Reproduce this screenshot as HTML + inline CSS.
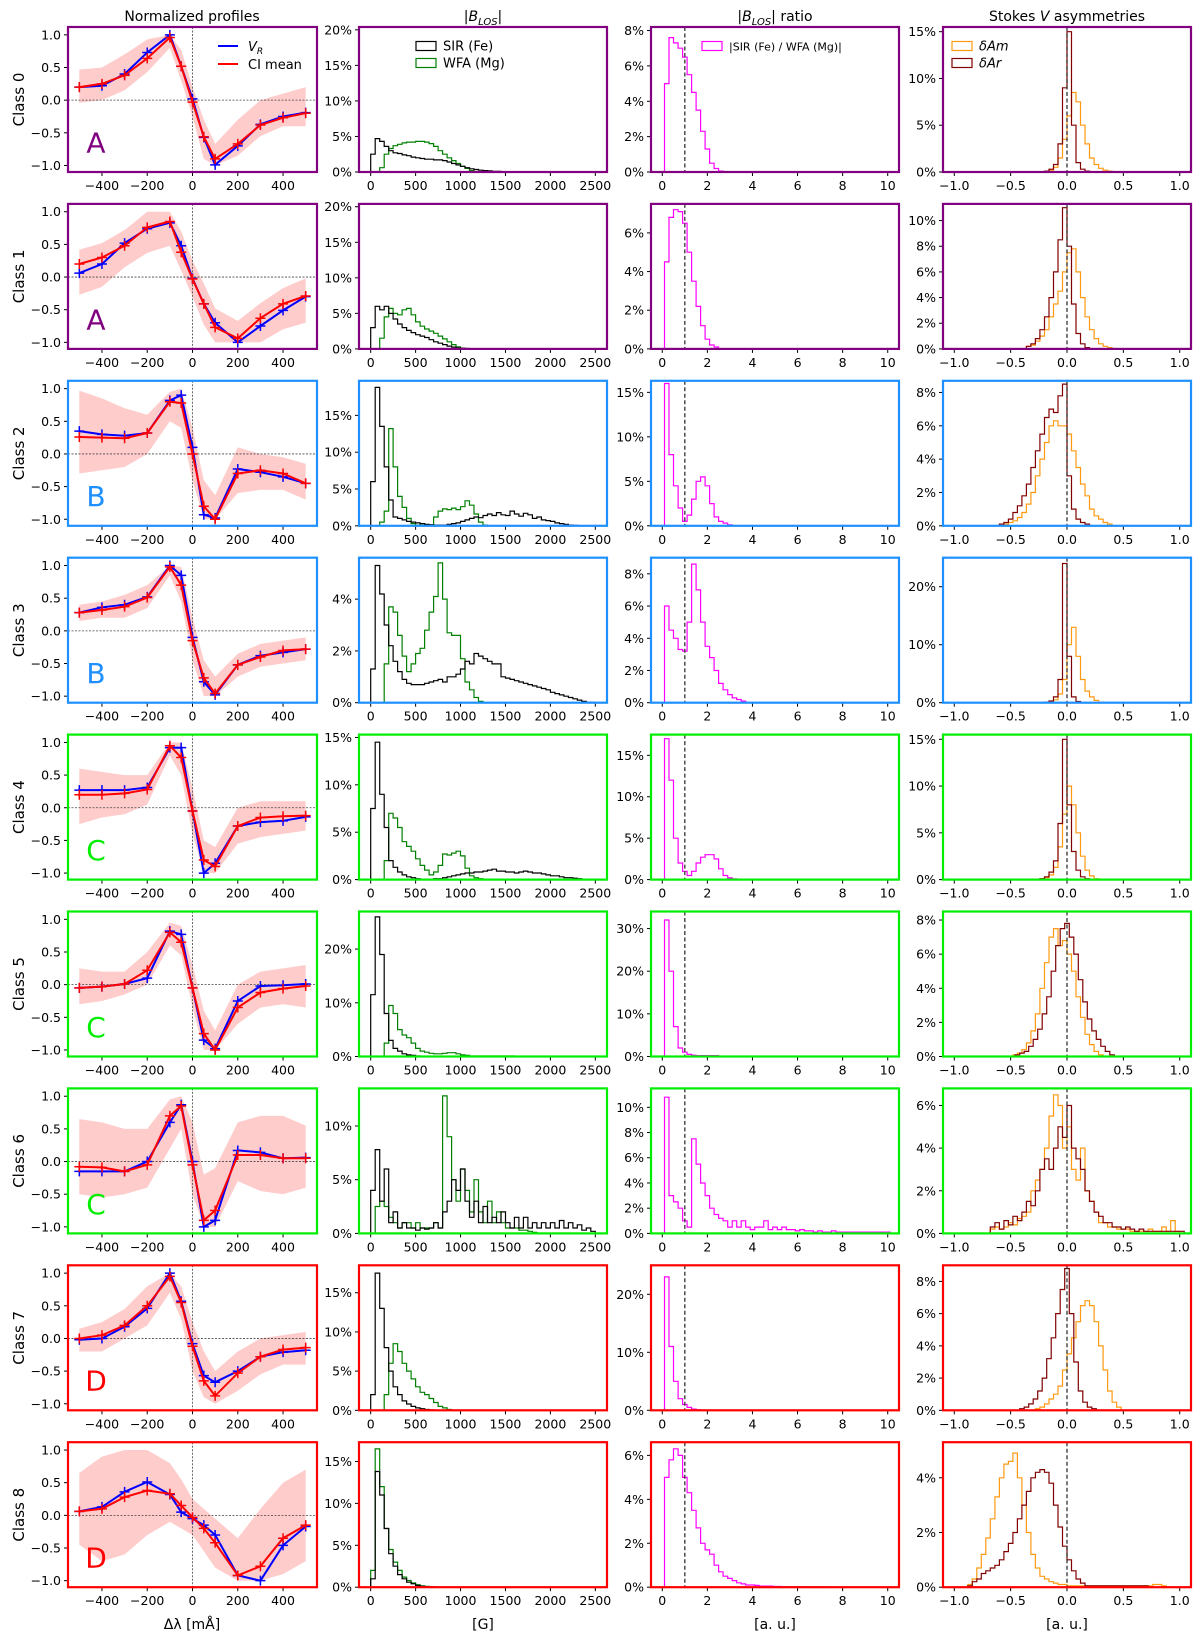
<!DOCTYPE html>
<html><head><meta charset="utf-8">
<style>
body{margin:0;background:#fff;}
svg{display:block;font-family:"DejaVu Sans","Liberation Sans",sans-serif;}
</style></head>
<body>
<svg id="fig" width="1200" height="1640" viewBox="0 0 1200 1640" xmlns="http://www.w3.org/2000/svg"></svg>
<script>
// ---------- DATA ----------
const classes = [0,1,2,3,4,5,6,7,8];
const classGroup = ["A","A","B","B","C","C","C","D","D"];
const dLambda = [-500,-400,-300,-200,-100,-50,0,50,100,200,300,400,500];
const vrProfiles = [
 [.2,.22,.4,.73,1.0,.52,.02,-.57,-.99,-.7,-.37,-.25,-.19],
 [.06,.2,.52,.74,.83,.48,-.02,-.41,-.7,-1.0,-.75,-.51,-.3],
 [.35,.3,.28,.32,.82,.9,.1,-.93,-.98,-.23,-.28,-.35,-.45],
 [.28,.36,.4,.52,1.0,.85,-.1,-.78,-.98,-.52,-.38,-.33,-.28],
 [.27,.27,.27,.31,.92,.92,-.05,-1.0,-.85,-.28,-.22,-.2,-.14],
 [-.05,-.03,.01,.1,.82,.77,-.05,-.85,-.98,-.25,-.02,-.01,.01],
 [-.15,-.15,-.15,0,.6,.87,0,-1.0,-.9,.17,.14,.05,.06],
 [-.02,0,.18,.46,1.0,.57,-.08,-.57,-.67,-.5,-.28,-.21,-.18],
 [.06,.13,.36,.51,.32,.05,-.05,-.15,-.3,-.92,-1.0,-.46,-.17]];
const ciMean = [
 [.2,.25,.38,.64,.96,.52,-.03,-.56,-.9,-.67,-.38,-.27,-.2],
 [.2,.3,.48,.76,.85,.38,-.03,-.41,-.77,-.94,-.63,-.41,-.29],
 [.26,.25,.24,.32,.8,.78,0,-.8,-1.0,-.3,-.25,-.3,-.45],
 [.28,.32,.37,.51,.98,.7,-.15,-.72,-.96,-.52,-.4,-.3,-.28],
 [.2,.2,.22,.28,.95,.77,-.05,-.8,-.9,-.28,-.15,-.13,-.12],
 [-.05,-.03,.01,.22,.8,.65,-.05,-.75,-1.0,-.35,-.12,-.06,-.02],
 [-.08,-.09,-.15,-.05,.7,.85,-.05,-.9,-.75,.1,.1,.05,.05],
 [0,.05,.2,.5,.95,.55,-.12,-.65,-.88,-.53,-.28,-.17,-.14],
 [.06,.1,.28,.38,.33,.15,-.03,-.2,-.42,-.92,-.78,-.35,-.15]];
const bandUpper = [
 [.47,.5,.7,.93,1.0,.77,.2,-.3,-.67,-.3,0,.1,.2],
 [.42,.52,.72,1.0,1.0,.7,.25,-.1,-.48,-.67,-.4,-.17,-.02],
 [.97,.85,.7,.6,.95,1.0,.4,-.4,-.63,.1,0,-.05,-.15],
 [.4,.45,.55,.7,1.0,.98,.2,-.45,-.7,-.35,-.2,-.15,-.1],
 [.6,.55,.5,.5,1.0,1.0,.3,-.5,-.6,0,.1,.1,.1],
 [.25,.2,.2,.5,.95,.9,.3,-.4,-.7,0,.2,.25,.3],
 [.65,.6,.5,.5,.95,1.0,.6,-.2,-.1,.6,.7,.7,.55],
 [.15,.25,.45,.8,1.0,.8,.25,-.2,-.5,-.2,0,.05,.1],
 [.65,.9,1.0,1.0,.8,.55,.25,.1,-.05,-.35,.1,.5,.7]];
const bandLower = [
 [-.04,0,.15,.43,.8,.3,-.25,-.9,-1.0,-.85,-.55,-.4,-.4],
 [-.27,-.15,.15,.37,.48,.1,-.3,-.73,-1.0,-1.0,-1.0,-.8,-.7],
 [-.3,-.25,-.2,0,.5,.4,-.4,-1.0,-1.0,-.6,-.55,-.55,-.7],
 [.15,.2,.2,.35,.85,.45,-.45,-1.0,-1.0,-.7,-.55,-.5,-.45],
 [-.25,-.15,-.1,.05,.8,.5,-.4,-1.0,-1.0,-.55,-.45,-.4,-.35],
 [-.3,-.25,-.15,0,.6,.45,-.35,-1.0,-1.0,-.6,-.35,-.3,-.35],
 [-.5,-.55,-.5,-.4,.2,.5,-.5,-1.0,-1.0,-.3,-.45,-.5,-.4],
 [-.2,-.2,0,.2,.7,.3,-.5,-.9,-1.0,-.8,-.55,-.4,-.4],
 [-.45,-.7,-.6,-.3,-.1,-.2,-.3,-.55,-.8,-1.0,-1.0,-.9,-.7]];

// |B_LOS| histograms, 50 G bins from 0 G, percent
const sirHist = [
 [2.5,4.7,4.3,3.6,3.0,2.7,2.6,2.4,2.3,2.1,2.0,1.9,1.8,1.8,1.7,1.7,1.6,1.4,1.2,1.0,0.8,0.6,0.45,0.35,0.25,0.2,0.15,0.1,0.08,0.05,0.04,0.03,0.02,0.01],
 [3,6,5.5,6,5,4.2,3.5,3.0,2.6,2.3,2.0,1.8,1.6,1.3,1.0,0.8,0.6,0.4,0.25,0.15,0.1,0.05,0.03],
 [6,18.8,13.5,8,3.5,1.2,1.0,0.8,0.6,0.5,0.4,0.3,0.2,0.15,0.1,0.1,0.1,0.2,0.3,0.4,0.6,0.8,1.0,1.2,1.1,1.4,1.6,1.4,1.8,1.5,1.4,2.0,1.6,1.3,1.7,1.5,1.0,1.2,0.8,0.7,0.6,0.4,0.3,0.2,0.1,0.05],
 [1.3,5.3,4.2,3,2.2,1.6,1.2,0.9,0.75,0.7,0.7,0.7,0.75,0.8,0.85,0.9,0.8,1.0,1.0,1.1,1.3,1.6,1.5,1.9,1.8,1.7,1.6,1.5,1.5,1.0,0.95,0.9,0.85,0.8,0.75,0.7,0.65,0.6,0.55,0.5,0.4,0.35,0.3,0.25,0.2,0.15,0.1,0.05,0.02,0.01],
 [7.5,14.5,9,5.5,2,1.3,0.8,0.5,0.3,0.2,0.1,0.05,0.05,0.05,0.1,0.1,0.2,0.3,0.4,0.5,0.6,0.7,0.7,0.8,0.8,0.9,1.0,1.1,0.9,0.9,0.8,0.8,0.7,0.8,0.9,0.8,0.7,0.7,0.6,0.5,0.4,0.4,0.3,0.2,0.2,0.15,0.1,0.05,0.03,0.02],
 [11.5,26,19,8,3,1.5,1,0.5,0.3,0.2,0.1,0.05],
 [4,7.8,3,6,1,2,0.5,1,0.5,0.5,0.3,0.5,0.4,0.5,1,0.5,2,3,5,4,6,3,1.5,3,1,2.5,1,1.5,1,2,1,0.5,1.5,0.5,1.5,0.5,1,0.5,1,0.5,1,0.5,1.2,0.5,1,0.5,0.8,0.3,0.5,0.2],
 [2,17.5,13,8,5,3,2,1.2,0.8,0.5,0.3,0.2,0.1,0.05],
 [1,13.8,11,7,4,2.5,1.5,1,0.6,0.4,0.2,0.1,0.05,0.02]];
const wfaHist = [
 [0,0,0.6,2.5,3.3,3.7,3.9,4.1,4.2,4.2,4.3,4.3,4.2,4.0,3.6,3.0,2.5,2.0,1.6,1.2,0.8,0.5,0.2,0.05],
 [0,0,1.5,4.5,5.7,5.0,4.8,5.5,5.7,4.8,3.8,3.2,2.8,2.5,2.2,1.8,1.4,1.0,0.6,0.3,0.1],
 [0,0,0.5,2,13.2,8,4,2.5,1,0.3,0.1,0.3,0.1,0,1.2,2,2.3,2.2,2.4,2.2,2.6,3.4,2.8,1.6,0.5,0.1],
 [0,0,0,1.5,3.7,3.5,2.6,1.8,1.2,1.5,1.9,2.1,2.8,3.5,4.1,5.4,4.0,2.7,2.6,2.6,1.7,0.8,0.5,0.2,0.05],
 [0,0,0,2,7,6.5,5.5,4,3.5,3,2.2,1.5,1.0,0.5,0.8,1.5,2.7,2.6,2.8,3.0,2.5,1.2,0.4,0.2,0.1],
 [0,0,0,2.5,9.5,8,5,4,3.5,2.5,1.5,1.0,0.8,0.6,0.5,0.5,0.6,0.7,0.7,0.5,0.3,0.2,0.1,0.1,0.1,0.1,0.1,0.1,0.1,0.1,0.1,0.1,0.05],
 [0,2.5,3,2.5,1.5,1,0.5,1,1,0.5,1,0.5,0.5,0.5,1,0.5,12.8,9,5,3,6,4,2,5,2,1,3,1,2,1,0.5,0.5,0.5,0.3,0.3,0.2,0.1],
 [0,0,0,2,6,8.5,7.5,6,5,4,3,2.3,2,1.5,1,0.5,0.3,0.1],
 [2,16.5,12,7,4.5,3,2,1.2,0.8,0.5,0.3,0.15,0.1,0.05,0.02]];
const bMax = [20.4,20.4,19.7,5.6,15.3,27,13.5,18.5,17.3];
const bTicks = [[0,5,10,15,20],[0,5,10,15,20],[0,5,10,15],[0,2,4],[0,5,10,15],[0,10,20],[0,5,10],[0,5,10,15],[0,5,10,15]];

// ratio histograms, 0.2 bins from 0.1
const ratioHist = [
 [5,7.6,7.3,7.0,6.5,5.5,4.5,3.5,2.3,1.3,0.5,0.2,0.05],
 [4.5,6.8,7.2,7.1,6.5,5.0,3.5,2.2,1.2,0.5,0.2,0.1],
 [16,8,4.5,2,0.5,1.2,3,5,5.5,4.5,2.5,1,0.5,0.3,0.1],
 [6,4.5,4,3.3,3.2,5,8.6,7,5,3.5,2.8,2,1.2,0.8,0.5,0.3,0.2,0.1],
 [17,12,5,2,1,0.5,1,2,2.7,3,3,2.5,1.3,0.5,0.2,0.1],
 [32,20,7,2,1,0.5,0.3,0.2,0.2,0.2,0.2,0.2,0.1],
 [10.8,3,2.5,2,1,0.5,7.5,5.5,4,3,2,1.5,1.2,1,0.5,1,0.5,1,0.5,0.3,0.5,0.5,1,0.3,0.5,0.3,0.5,0.3,0.3,0.2,0.3,0.2,0.2,0.1,0.2,0.1,0.1,0.2,0.1,0.1,0.1,0.1,0.1,0.1,0.1,0.1,0.1,0.1,0.1,0.1],
 [23,11,5,2,1,0.5,0.2,0.1],
 [5,5.8,6.3,6,5,4.3,3.5,2.7,2,1.7,1.5,1,0.7,0.5,0.4,0.3,0.2,0.15,0.1,0.1,0.08,0.05,0.05,0.05,0.03,0.03,0.02,0.02,0.02,0.02,0.02,0.01,0.01,0.01,0.01,0.01]];
const rMax = [8.2,7.5,16.3,9,17.5,34,11.5,25,6.6];
const rTicks = [[0,2,4,6,8],[0,2,4,6],[0,5,10,15],[0,2,4,6,8],[0,5,10,15],[0,10,20,30],[0,2,4,6,8,10],[0,10,20],[0,2,4,6]];

// Stokes V asymmetries, 0.04 bins
const amStart = [-0.2,-0.36,-0.56,-0.2,-0.24,-0.48,-0.68,-0.28,-0.88];
const amHist = [
 [0.1,0.2,0.5,1.5,3.5,6,8.5,7.5,5,3,1.5,0.8,0.4,0.2,0.1],
 [0.2,0.3,0.6,1,1.5,2.5,3.5,4.5,6,7.5,7.8,6,4,2.5,1.5,0.8,0.4,0.2,0.1],
 [0.1,0.2,0.3,0.5,0.8,1.3,2,3,4,5,6,6.3,6,6,5.5,4.5,3.5,2.5,1.8,1,0.6,0.4,0.2,0.1],
 [0.1,0.2,0.5,1.5,4,10,13,8,4,2,1,0.4,0.1],
 [0.1,0.2,0.5,1.3,3.5,7,10,8,5,2.5,1,0.4,0.1],
 [0.1,0.2,0.4,0.8,1.5,2.5,4,5.5,7,7.5,6.5,6.8,6,5,3.5,2.3,1.3,0.7,0.3,0.1],
 [0.2,0.3,0.2,0.3,0.5,0.4,0.7,0.8,1,2,2.5,3,4,5.5,6.5,6,4,5,3,2.5,4,2,1.5,1,0.5,0.5,0.3,0.3,0.2,0.2,0.2,0.1,0.1,0.1,0.1,0.2,0.1,0.1,0.3,0.1,0.6,0.1],
 [0.1,0.2,0.4,0.7,1,1.5,2.5,3.5,4.5,5.5,6.5,6.8,6.5,5.5,4,2.5,1.2,0.5,0.2],
 [0.1,0.3,0.7,1.2,1.8,2.5,3.3,4,4.5,4.6,4.9,4,3,2,1.2,0.7,0.4,0.3,0.2,0.15,0.1,0.1,0.05,0.05,0.05,0.05,0.05,0.05,0.05,0.05,0.05,0.05,0.05,0.05,0.05,0.05,0.05,0.05,0.05,0.05,0.05,0.1,0.1,0.05]];
const arStart = [-0.2,-0.36,-0.6,-0.2,-0.24,-0.46,-0.68,-0.42,-0.88];
const arHist = [
 [0.1,0.3,0.8,3,9,15,5,1,0.3,0.1],
 [0.2,0.4,0.8,1.5,2.5,4,6,8.5,11,8,3.5,1.2,0.4,0.1],
 [0.1,0.2,0.4,0.8,1.2,1.8,2.5,3.5,4.5,5.5,6.5,7,6.8,7.8,8.5,3,1,0.4,0.2,0.1],
 [0.1,0.3,1,4,24,8,1,0.2],
 [0.1,0.3,0.8,2,6,15,8,3,1,0.3,0.1],
 [0.1,0.2,0.3,0.6,1,1.6,2.5,3.5,5,6.5,7.5,7.8,7,6,4.5,3.2,2.2,1.5,1,0.6,0.3,0.1],
 [0.3,0.5,0.2,0.6,0.4,0.8,0.6,1,1.5,1.3,2,3,3.5,3,4,5,4.5,6,4,3.5,3,2,1.5,1,0.8,0.5,0.5,0.3,0.3,0.2,0.3,0.2,0.1,0.2,0.1,0.1,0.1,0.1,0.1,0.1,0.1,0.1,0.1],
 [0.1,0.2,0.4,0.7,1.2,2,3.2,4.5,6,7.5,8.8,6,3,1.2,0.5,0.2,0.1],
 [0.05,0.2,0.3,0.5,0.6,0.7,0.8,1.0,1.3,1.6,2,2.5,3,3.5,4,4.2,4.3,4.2,3.8,3,2.2,1.5,1,0.6,0.3,0.15,0.05,0.05,0.05,0.05,0.05,0.05,0.05,0.05,0.05,0.05,0.05,0.05,0.05,0.05]];
const aMax = [15.5,11.3,8.7,25,15.5,8.5,6.8,9,5.3];
const aTicks = [[0,5,10,15],[0,2,4,6,8,10],[0,2,4,6,8],[0,10,20],[0,5,10,15],[0,2,4,6,8],[0,2,4,6],[0,2,4,6,8],[0,2,4]];

// ---------- RENDER ----------
const NS="http://www.w3.org/2000/svg";
const svg=document.getElementById('fig');
const groupColor={A:"#800080",B:"#1e90ff",C:"#00ee00",D:"#ff0000"};
const colX=[[68,317],[359,607],[651,899],[943,1191]];
const xlims=[[-550,550],[-130,2630],[-0.5,10.5],[-1.1,1.1]];
const xTickVals=[[-400,-200,0,200,400],[0,500,1000,1500,2000,2500],[0,2,4,6,8,10],[-1,-0.5,0,0.5,1]];
const xTickFmt=[v=>fmtMinus(String(v)),v=>String(v),v=>String(v),v=>fmtMinus(v.toFixed(1))];
const top0=27,P=176.9,H=145;
function fmtMinus(s){return s.replace('-','\u2212');}
function el(tag,attrs,parent){const e=document.createElementNS(NS,tag);for(const k in attrs)e.setAttribute(k,attrs[k]);(parent||svg).appendChild(e);return e;}
function txt(s,attrs,parent){const t=el('text',attrs,parent);t.textContent=s;return t;}

function stepPath(vals,start,bw,sx,sy){
  let d="M"+sx(start).toFixed(1)+","+sy(0).toFixed(1);
  vals.forEach((v,i)=>{const x0=sx(start+i*bw),x1=sx(start+(i+1)*bw),y=sy(v);
    d+=" L"+x0.toFixed(1)+","+y.toFixed(1)+" L"+x1.toFixed(1)+","+y.toFixed(1);});
  d+=" L"+sx(start+vals.length*bw).toFixed(1)+","+sy(0).toFixed(1);
  return d;
}

let t=txt("Normalized profiles",{x:192,y:21,"text-anchor":"middle","font-size":"14"});

t=el('text',{x:483,y:21,"text-anchor":"middle","font-size":"14"});
t.innerHTML='|<tspan font-style="italic">B</tspan><tspan font-size="10" dy="4" font-style="italic">LOS</tspan><tspan dy="-4">|</tspan>';

t=el('text',{x:775,y:21,"text-anchor":"middle","font-size":"14"});
t.innerHTML='|<tspan font-style="italic">B</tspan><tspan font-size="10" dy="4" font-style="italic">LOS</tspan><tspan dy="-4">| ratio</tspan>';

t=el('text',{x:1067,y:21,"text-anchor":"middle","font-size":"14"});
t.innerHTML='Stokes <tspan font-style="italic">V</tspan> asymmetries';


classes.forEach(r=>{
  const yTop=top0+r*P, yBot=yTop+H;
  const gc=groupColor[classGroup[r]];
  const lab=txt("Class "+r,{x:0,y:0,"font-size":"15","text-anchor":"middle",transform:`translate(24,${(yTop+yBot)/2}) rotate(-90)`});
  
  for(let c=0;c<4;c++){
    const [xL,xR]=colX[c];
    const g=el('g',{});
    
    const sx=v=>xL+(v-xlims[c][0])/(xlims[c][1]-xlims[c][0])*(xR-xL);
    let ymin,ymax,ticks,fmt;
    if(c===0){ymin=-1.1;ymax=1.12;ticks=[-1,-0.5,0,0.5,1];fmt=v=>fmtMinus(v.toFixed(1));}
    else{ymin=0;ymax=[bMax,rMax,aMax][c-1][r];ticks=[bTicks,rTicks,aTicks][c-1][r];fmt=v=>v+"%";}
    const sy=v=>yBot-(v-ymin)/(ymax-ymin)*H;
    ticks.forEach(v=>{const y=sy(v);el('line',{x1:xL-4,x2:xL,y1:y,y2:y,stroke:"#000","stroke-width":1},g);
      const tl=txt(fmt(v),{x:xL-7,y:y+4.5,"text-anchor":"end","font-size":"12.5"},g);
      });
    xTickVals[c].forEach(v=>{const x=sx(v);el('line',{x1:x,x2:x,y1:yBot,y2:yBot+4,stroke:"#000","stroke-width":1},g);
      const tl=txt(xTickFmt[c](v),{x:x,y:yBot+18,"text-anchor":"middle","font-size":"12.5"},g);
      });
    if(c===0){
      let d="";dLambda.forEach((x,i)=>d+=(i?"L":"M")+sx(x)+","+sy(bandUpper[r][i]));
      for(let i=dLambda.length-1;i>=0;i--)d+="L"+sx(dLambda[i])+","+sy(bandLower[r][i]);
      const band=el('path',{d:d+"Z",fill:"#ffcccc",stroke:"none"},g);
      
      el('line',{x1:xL,x2:xR,y1:sy(0),y2:sy(0),stroke:"#444","stroke-width":0.8,"stroke-dasharray":"2,1.5"},g);
      el('line',{x1:sx(0),x2:sx(0),y1:yTop,y2:yBot,stroke:"#444","stroke-width":0.8,"stroke-dasharray":"2,1.5"},g);
      [[vrProfiles,"#0000ff","vr-profile"],[ciMean,"#ff0000","ci-mean-profile"]].forEach(([arr,col,nm])=>{
        let pd="";dLambda.forEach((x,i)=>pd+=(i?"L":"M")+sx(x).toFixed(1)+","+sy(arr[r][i]).toFixed(1));
        const ln=el('path',{d:pd,fill:"none",stroke:col,"stroke-width":2},g);
        
        dLambda.forEach((x,i)=>{const px=sx(x),py=sy(arr[r][i]);
          el('path',{d:`M${px-5},${py}h10M${px},${py-5}v10`,stroke:col,"stroke-width":1.5},g);});
      });
      const L=txt(classGroup[r],{x:96,y:sy(-0.8),"text-anchor":"middle","font-size":"28",fill:gc},g);
      
    } else if(c===1){
      const p1=el('path',{d:stepPath(wfaHist[r],0,50,sx,sy),fill:"none",stroke:"#008000","stroke-width":1.2},g);
      
      const p2=el('path',{d:stepPath(sirHist[r],0,50,sx,sy),fill:"none",stroke:"#000","stroke-width":1.2},g);
      
    } else if(c===2){
      const p=el('path',{d:stepPath(ratioHist[r],0.1,0.2,sx,sy),fill:"none",stroke:"#ff00ff","stroke-width":1.2},g);
      
      el('line',{x1:sx(1),x2:sx(1),y1:yTop,y2:yBot,stroke:"#333","stroke-width":1.3,"stroke-dasharray":"4,2.5"},g);
    } else {
      const p1=el('path',{d:stepPath(amHist[r],amStart[r],0.04,sx,sy),fill:"none",stroke:"#ff9a10","stroke-width":1.2},g);
      
      const p2=el('path',{d:stepPath(arHist[r],arStart[r],0.04,sx,sy),fill:"none",stroke:"#800000","stroke-width":1.2},g);
      
      el('line',{x1:sx(0),x2:sx(0),y1:yTop,y2:yBot,stroke:"#333","stroke-width":1.3,"stroke-dasharray":"4,2.5"},g);
    }
    const fr=el('rect',{x:xL,y:yTop,width:xR-xL,height:H,fill:"none",stroke:gc,"stroke-width":2.2},g);
    
  }
});

function legendLine(x,y,col,name,html){
  const g=el('g',{});
  el('line',{x1:x,x2:x+20,y1:y,y2:y,stroke:col,"stroke-width":2},g);
  const t=el('text',{x:x+30,y:y+5,"font-size":"13"},g);t.innerHTML=html;
}
legendLine(218,46,"#0000ff","legend-vr",'<tspan font-style="italic">V</tspan><tspan font-size="9" dy="3" font-style="italic">R</tspan>');
legendLine(218,64,"#ff0000","legend-ci-mean",'CI mean');
function legendPatch(x,y,col,html,name,fs){
  const g=el('g',{});
  el('rect',{x:x,y:y-4.5,width:20,height:9,fill:"none",stroke:col,"stroke-width":1.2},g);
  const t=el('text',{x:x+27,y:y+4.5,"font-size":fs||13},g);t.innerHTML=html;
}
legendPatch(416,46,"#000","SIR (Fe)","legend-sir");
legendPatch(416,63,"#008000","WFA (Mg)","legend-wfa");
legendPatch(702,46,"#ff00ff","|SIR (Fe) / WFA (Mg)|","legend-ratio",11);
legendPatch(952,46,"#ff9a10",'<tspan font-style="italic">δAm</tspan>',"legend-dam");
legendPatch(952,63,"#800000",'<tspan font-style="italic">δAr</tspan>',"legend-dar");

let xl=txt("Δλ [mÅ]",{x:192,y:1629,"text-anchor":"middle","font-size":"14"});

xl=txt("[G]",{x:483,y:1629,"text-anchor":"middle","font-size":"14"});

xl=txt("[a. u.]",{x:775,y:1629,"text-anchor":"middle","font-size":"14"});

xl=txt("[a. u.]",{x:1067,y:1629,"text-anchor":"middle","font-size":"14"});

</script>
</body></html>
